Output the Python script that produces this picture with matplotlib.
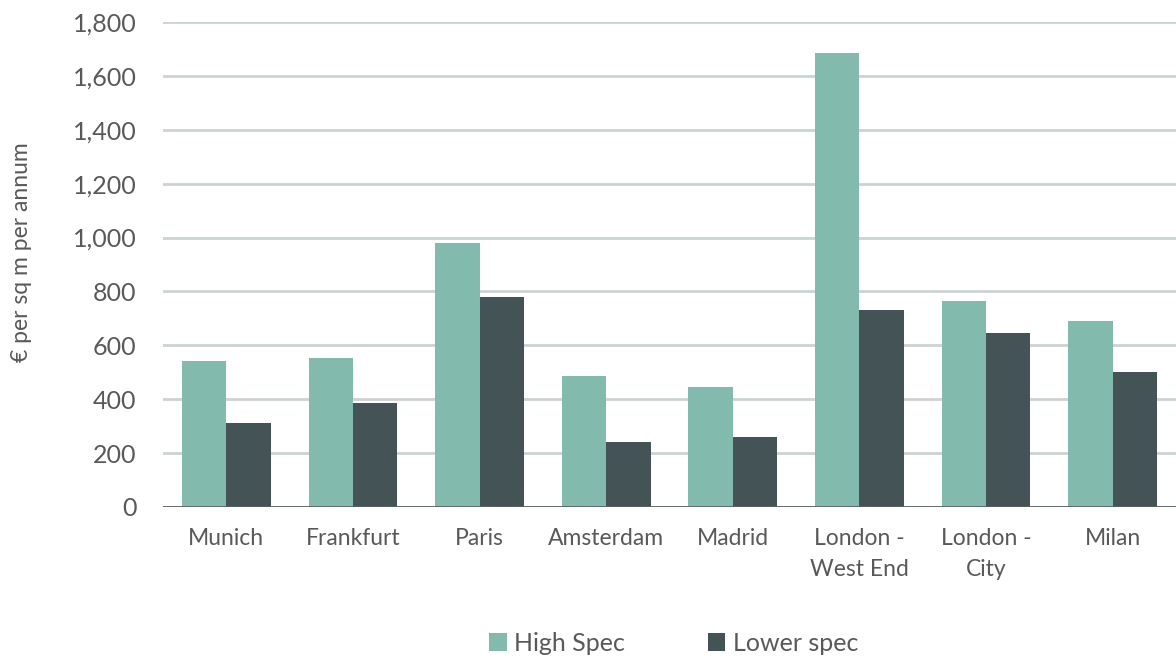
import matplotlib.pyplot as plt
import numpy as np

# Rent data, € per sq m per annum
cities = ["Munich", "Frankfurt", "Paris", "Amsterdam", "Madrid",
          "London -\nWest End", "London -\nCity", "Milan"]
high_spec = [542, 553, 980, 486, 445, 1685, 765, 690]
lower_spec = [312, 386, 779, 241, 260, 731, 646, 501]

plt.rcParams['font.family'] = ['Lato', 'DejaVu Sans']

fig = plt.figure(figsize=(11.76, 6.59), dpi=100)
ax = fig.add_axes([0.1386, 0.2307, 0.8614, 0.7359])

x = np.arange(len(cities))
w = 0.35
ax.bar(x - w / 2, high_spec, w, color='#82bbad', label='High Spec', zorder=3)
ax.bar(x + w / 2, lower_spec, w, color='#435356', label='Lower spec', zorder=3)

ax.set_xlim(-0.5, len(cities) - 0.5)
ax.set_ylim(0, 1800)
ax.set_yticks(range(0, 1801, 200))
ax.yaxis.set_major_formatter(plt.FuncFormatter(lambda v, p: f"{int(v):,}"))
ax.grid(axis='y', color='#ccd3d3', linewidth=2, zorder=0)
ax.axhline(0, color='#5a6262', linewidth=2, zorder=4)

for s in ax.spines.values():
    s.set_visible(False)
ax.tick_params(axis='y', length=0, pad=19, labelsize=18, labelcolor='#595959')
ax.tick_params(axis='x', length=0, pad=15, labelsize=16.5, labelcolor='#595959')
ax.set_xticks(x)
ax.set_xticklabels(cities, linespacing=1.6)

ax.set_ylabel('€ per sq m per annum', fontsize=16.5, color='#595959')
ax.yaxis.set_label_coords(-0.129, 0.526)

fig.legend(loc='lower center', bbox_to_anchor=(0.573, -0.028), ncol=2, frameon=False,
           fontsize=18, handlelength=0.7, handleheight=0.7, handletextpad=0.3,
           columnspacing=3.3, labelcolor='#595959')

fig.savefig('out.png', dpi=100)
